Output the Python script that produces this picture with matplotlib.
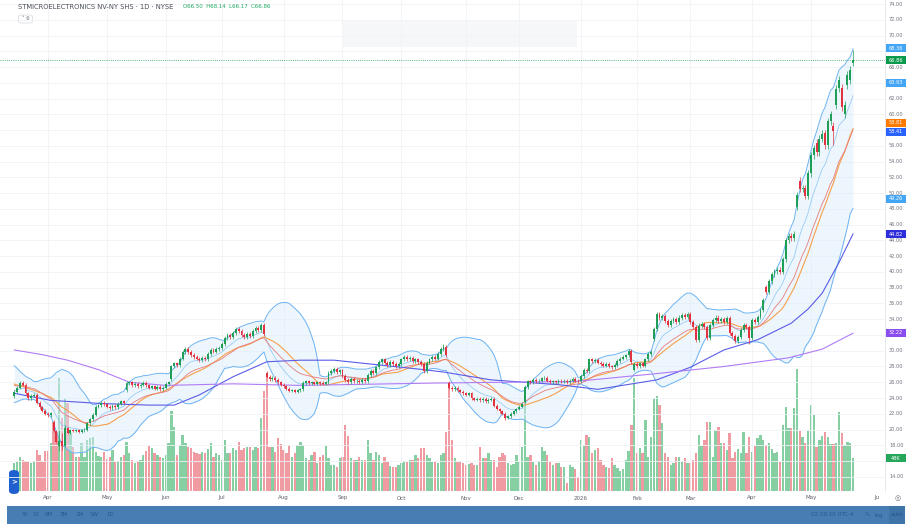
import numpy as np
import pandas as pd
import matplotlib
matplotlib.use("Agg")
import matplotlib.pyplot as plt
from matplotlib.patches import Rectangle, FancyBboxPatch

# ---------------- data ----------------
holidays = ["2025-04-18", "2025-05-26", "2025-06-19", "2025-07-04", "2025-09-01",
            "2025-11-27", "2025-12-25", "2026-01-01", "2026-01-19", "2026-02-16",
            "2026-04-03"]

# closes before the visible window (only used to warm up the 20-day bands)
lead_closes = [27.8, 28.0, 27.5, 27.2, 26.8, 26.4, 26.6, 25.9, 25.5, 25.1,
               25.6, 25.2, 24.7, 25.0, 25.4, 24.8, 24.3, 24.6, 24.2]

c_mar25 = [24.8, 25.3, 25.9, 25.7, 24.6, 24.0, 24.3, 24.4, 23.4, 22.8, 22.4, 22.0]
c_apr25 = [21.8, 22.1, 19.8, 18.4, 18.6, 17.9, 20.2, 19.6, 19.9, 19.8, 19.9, 19.7,
           19.9, 20.0, 20.8, 21.3, 21.9, 22.9, 23.1, 23.4, 23.2]
c_may25 = [22.9, 22.7, 23.0, 22.8, 23.3, 23.6, 23.4, 25.9, 26.0, 25.6, 25.8, 25.5,
           25.7, 25.9, 25.6, 25.3, 25.5, 25.2, 25.4, 25.1, 25.3]
c_jun25 = [25.8, 26.0, 28.0, 28.4, 28.2, 29.0, 29.8, 30.2, 29.8, 29.5, 29.2, 29.0,
           28.8, 29.1, 28.9, 29.6, 30.1, 29.9, 30.2, 30.4]
c_jul25 = [30.8, 31.6, 32.0, 31.7, 32.3, 32.7, 32.5, 32.0, 31.7, 32.1, 31.9, 32.5,
           32.9, 32.6, 33.3, 32.1, 26.7, 26.4, 26.6, 26.3, 26.0, 25.7]
c_aug25 = [25.5, 25.2, 24.9, 25.0, 24.8, 25.0, 25.1, 25.9, 26.1, 25.9, 26.0, 25.8,
           26.0, 25.9, 25.8, 26.0, 27.2, 27.4, 27.7, 27.3, 27.5]
c_sep25 = [26.8, 26.3, 26.0, 26.4, 26.1, 26.2, 26.0, 26.3, 26.1, 26.9, 27.4, 27.2,
           27.9, 28.6, 28.9, 28.5, 28.2, 28.6, 28.3, 28.0, 28.3]
c_oct25 = [28.9, 29.2, 28.9, 29.1, 28.7, 28.9, 28.6, 28.3, 27.4, 28.5, 28.9, 29.2,
           29.0, 29.6, 30.2, 30.5, 29.5, 25.3, 25.1, 25.3, 25.0, 24.8, 24.6]
c_nov25 = [24.4, 24.6, 24.0, 23.8, 23.9, 23.7, 23.9, 23.6, 23.8, 23.9, 23.0, 22.6,
           22.3, 22.0, 21.5, 21.7, 22.0, 22.3, 22.6]
c_dec25 = [22.9, 23.3, 25.4, 26.1, 26.0, 26.3, 26.1, 26.2, 26.5, 26.6, 26.2, 26.0,
           26.1, 26.0, 26.2, 26.1, 26.2, 26.0, 26.2, 26.4, 26.2, 26.1]
c_jan26 = [26.8, 27.6, 27.4, 28.9, 28.7, 28.8, 28.5, 28.3, 28.1, 28.3, 28.0, 27.9,
           28.2, 28.7, 29.0, 29.2, 29.4, 30.0, 28.6, 28.3]
c_feb26 = [28.0, 28.4, 28.1, 28.9, 29.6, 29.9, 32.8, 34.6, 34.2, 34.4, 33.8, 33.3,
           33.8, 34.0, 33.7, 34.2, 34.5, 34.3, 34.6]
c_mar26 = [33.6, 33.0, 31.4, 33.2, 33.4, 33.0, 31.6, 33.3, 33.9, 34.2, 33.8, 34.0,
           33.7, 34.1, 32.3, 31.9, 31.2, 31.8, 32.6, 33.3, 33.0, 31.6]
c_apr26 = [33.9, 33.6, 34.3, 35.2, 36.4, 37.5, 38.8, 39.7, 40.1, 40.3, 40.0, 41.6,
           44.0, 44.6, 44.3, 44.8, 49.8, 50.5, 50.6, 49.7, 52.5]
c_may26 = [54.8, 55.7, 55.2, 56.9, 57.5, 56.1, 59.1, 60.0, 57.9, 63.2, 64.3, 60.9,
           61.2, 65.0, 65.6, 66.86]

# volume in thousands of shares
v_mar25 = [41, 44, 49, 45, 44, 42, 41, 44, 59, 52, 44, 58]
v_apr25 = [58, 70, 100, 86, 165, 106, 135, 128, 84, 64, 49, 49, 70, 49, 74, 77, 78,
           57, 51, 49, 57]
v_may25 = [46, 49, 59, 42, 44, 49, 52, 71, 55, 45, 41, 44, 45, 52, 58, 65, 62, 55,
           52, 49, 48]
v_jun25 = [52, 70, 117, 93, 52, 67, 81, 70, 64, 62, 57, 55, 54, 57, 55, 61, 70, 49,
           55, 52]
v_jul25 = [45, 74, 55, 55, 62, 59, 71, 59, 62, 64, 64, 59, 64, 62, 106, 146, 172,
           64, 64, 57, 77, 68]
v_aug25 = [59, 55, 67, 49, 55, 67, 71, 67, 48, 45, 52, 57, 41, 49, 52, 65, 48, 38,
           38, 35, 48]
v_sep25 = [49, 96, 80, 48, 45, 45, 49, 45, 45, 74, 55, 45, 57, 52, 41, 49, 42, 36,
           35, 35, 38]
v_oct25 = [41, 44, 42, 45, 45, 52, 48, 62, 62, 52, 48, 42, 42, 41, 52, 55, 86, 154,
           74, 48, 42, 42, 41]
v_nov25 = [38, 39, 41, 38, 38, 64, 48, 48, 55, 45, 45, 35, 49, 55, 52, 41, 38, 39, 52]
v_dec25 = [44, 64, 151, 49, 52, 42, 38, 44, 64, 58, 52, 42, 38, 41, 41, 35, 35, 12,
           38, 35, 32, 20]
v_jan26 = [74, 67, 81, 78, 55, 59, 62, 45, 38, 35, 33, 48, 38, 33, 29, 32, 45, 58,
           96, 165]
v_feb26 = [55, 62, 55, 103, 49, 78, 135, 138, 125, 99, 55, 49, 38, 41, 49, 49, 44,
           48, 41]
v_mar26 = [41, 45, 55, 81, 65, 74, 100, 100, 49, 88, 93, 70, 70, 59, 84, 48, 57, 61,
           55, 86, 55, 78]
v_apr26 = [57, 65, 77, 81, 74, 67, 70, 61, 55, 57, 42, 96, 122, 91, 91, 120, 178,
           88, 78, 70, 87]
v_may26 = [125, 110, 64, 74, 80, 86, 78, 68, 68, 70, 115, 84, 67, 71, 70, 48]

# opens that gap away from the previous close (bar index -> open)
gap_opens = {14: 21.0, 16: 17.9, 40: 25.0, 56: 26.4, 90: 27.2, 155: 25.9,
             182: 23.5, 221: 27.6, 228: 31.5, 268: 38.1, 279: 48.2, 280: 51.6,
             286: 56.4, 289: 57.6, 292: 58.5, 293: 61.2, 294: 63.3, 295: 63.3,
             296: 60.0, 297: 63.7, 298: 64.4, 299: 66.50}
high_at = {16: 19.9, 17: 19.6, 18: 20.6, 153: 30.9, 299: 68.14}
low_at = {16: 17.3, 17: 17.4, 175: 21.2, 262: 30.9, 292: 56.1, 299: 66.17}

# 50 and 200 day averages, read at a few bars
ma50_at = [0, 13, 31, 48, 57, 66, 78, 90, 102, 114, 146, 153, 170, 194, 208, 229,
           241, 253, 265, 277, 283, 288, 294, 299]
ma50_val = [24.6, 23.7, 23.3, 23.1, 23.1, 24.4, 26.7, 28.6, 28.8, 28.8, 27.6, 27.3,
            26.3, 25.7, 25.1, 26.3, 27.9, 30.1, 31.4, 33.5, 35.3, 37.3, 41.2, 44.82]
ma200_at = [0, 10, 19, 30, 41, 54, 78, 102, 150, 200, 229, 253, 276, 288, 299]
ma200_val = [30.1, 29.5, 28.8, 27.6, 26.0, 25.6, 25.8, 25.6, 25.9, 26.1, 27.1, 28.0,
             29.1, 30.2, 32.22]

# values shown in the coloured boxes on the price scale
tag_vals = [68.36, 66.86, 63.93, 58.81, 58.41, 49.26, 44.82, 32.22]
tag_cols = ["#42a5f5", "#0b9a4c", "#42a5f5", "#ff7a00", "#2962ff", "#42a5f5",
            "#2d2ddb", "#8a4df0"]
tag_ypx = [48, 60, 83, 123, 132, 199, 234, 333]

# ---------------- build series ----------------
closes = np.array(c_mar25 + c_apr25 + c_may25 + c_jun25 + c_jul25 + c_aug25 +
                  c_sep25 + c_oct25 + c_nov25 + c_dec25 + c_jan26 + c_feb26 +
                  c_mar26 + c_apr26 + c_may26)
volumes = np.array(v_mar25 + v_apr25 + v_may25 + v_jun25 + v_jul25 + v_aug25 +
                   v_sep25 + v_oct25 + v_nov25 + v_dec25 + v_jan26 + v_feb26 +
                   v_mar26 + v_apr26 + v_may26)
dates = pd.bdate_range("2025-03-14", "2026-05-22")
dates = dates[~dates.isin(pd.to_datetime(holidays))]
n = len(closes)
idx = np.arange(n)

opens = np.r_[lead_closes[-1], closes[:-1]].astype(float)
for k, v in gap_opens.items():
    opens[k] = v
highs = np.maximum(opens, closes) * 1.008
lows = np.minimum(opens, closes) * 0.992
for k, v in high_at.items():
    highs[k] = v
for k, v in low_at.items():
    lows[k] = v
up = closes >= opens

full = pd.Series(lead_closes + list(closes))
L = len(lead_closes)
sma20 = full.rolling(20).mean().values[L:]
sd20 = full.rolling(20).std(ddof=0).values[L:]
bb_up = sma20 + 2 * sd20
bb_lo = sma20 - 2 * sd20
ema20 = full.ewm(span=20, adjust=False).mean().values[L:]
ema10 = full.ewm(span=10, adjust=False).mean().values[L:]

# ---------------- figure ----------------
W, H = 914, 529
fig = plt.figure(figsize=(W / 100, H / 100), dpi=100)
fig.patch.set_facecolor("white")

def fx(px):
    return px / W

def fy(py):
    return 1 - py / H

def py_of(p):
    return 4 + (74 - p) * 7.88

ax2 = fig.add_axes([0, fy(491), fx(885), 491 / H])
ax = fig.add_axes([0, fy(491), fx(885), 491 / H], sharex=ax2)
ax.set_zorder(ax2.get_zorder() + 1)
ax.patch.set_visible(False)

ax.set_xlim(-5.1, 310.4)
ax.set_ylim(12.20, 74.51)
ax2.set_ylim(0, 714)
for a in (ax, ax2):
    for s in a.spines.values():
        s.set_visible(False)
    a.set_xticks([])
    a.set_yticks([])

# grid
for p in range(14, 76, 2):
    ax.axhline(p, color="#f1f3f6", lw=0.6, zorder=0)
month_starts = [i for i in range(1, n) if dates[i].month != dates[i - 1].month]
for i in month_starts:
    ax.axvline(i, color="#f1f3f6", lw=0.6, zorder=0)

# volume
vcol = np.where(up, "#86cfa2", "#f09aa2")
ax2.bar(idx, volumes, width=0.82, color=vcol, linewidth=0)

# bands and averages
ax.fill_between(idx, bb_up, bb_lo, color="#d9ebfb", alpha=0.45, lw=0, zorder=1)
ax.plot(idx, bb_up, color="#6db3f2", lw=0.7, zorder=2)
ax.plot(idx, bb_lo, color="#6db3f2", lw=0.7, zorder=2)
ax.plot(idx, ema10, color="#8cc4f5", lw=0.5, zorder=2)
ax.plot(idx, sma20, color="#f7a04b", lw=0.8, zorder=2)
ax.plot(idx, ema20, color="#e57c7c", lw=0.6, zorder=2)
ax.plot(ma50_at, ma50_val, color="#5a5ce6", lw=0.8, zorder=2)
ax.plot(ma200_at, ma200_val, color="#b07cf4", lw=0.8, zorder=2)

# candles
ccol = np.where(up, "#1f9e57", "#e2323f")
ax.vlines(idx, lows, highs, colors=ccol, lw=0.5, zorder=3)
body = np.maximum(np.abs(closes - opens), 0.06)
ax.bar(idx, body, bottom=np.minimum(opens, closes), width=0.68, color=ccol,
       linewidth=0, zorder=4)

# last price line
ax.axhline(closes[-1], color="#1f9e57", lw=0.6, ls=(0, (1, 1.6)), zorder=2)

# ---------------- price scale ----------------
fig.add_artist(plt.Line2D([fx(884.5)] * 2, [fy(0), fy(491)], color="#e3e6eb", lw=0.6))
box_centres = tag_ypx + [458]
for p in range(14, 76, 2):
    yp = py_of(p)
    if min(abs(yp - b) for b in box_centres) < 5:
        continue  # hidden behind a value box, as on the reference
    fig.text(fx(889), fy(yp), f"{p:.2f}", fontsize=3.6, color="#6d717c",
             va="center", ha="left")
for v, c, yp in zip(tag_vals, tag_cols, tag_ypx):
    fig.add_artist(Rectangle((fx(886), fy(yp + 4.3)), fx(19.5), 8.6 / H,
                             facecolor=c, edgecolor="none"))
    fig.text(fx(895.8), fy(yp), f"{v:.2f}", fontsize=3.6, color="white",
             va="center", ha="center")
fig.add_artist(Rectangle((fx(886), fy(458 + 4.3)), fx(19.5), 8.6 / H,
                         facecolor="#26a65b", edgecolor="none"))
fig.text(fx(895.8), fy(458), f"{volumes[-1]}K", fontsize=3.6, color="white",
         va="center", ha="center")

# ---------------- time axis ----------------
for i in month_starts:
    d = dates[i]
    lab = str(d.year) if d.month == 1 else d.strftime("%b")
    fig.text(fx(14.3 + 2.805 * i), fy(498), lab, fontsize=4, color="#5d616b",
             ha="center", va="center")
fig.text(fx(877), fy(498), "Ju", fontsize=4, color="#5d616b", ha="center", va="center")
fig.text(fx(898), fy(498), "◎", fontsize=5, color="#6d717c", ha="center", va="center")

# ---------------- header ----------------
fig.text(fx(18), fy(7), "STMICROELECTRONICS NV-NY SHS · 1D · NYSE", fontsize=4.9,
         color="#4a4e59", ha="left", va="center")
fig.text(fx(183), fy(7), "O66.50  H68.14  L66.17  C66.86", fontsize=3.9,
         color="#1fa862", ha="left", va="center")
fig.add_artist(FancyBboxPatch((fx(18.5), fy(23)), fx(14), 8 / H,
                              boxstyle="round,pad=0,rounding_size=0.003",
                              facecolor="white", edgecolor="#d5d8de", lw=0.5))
fig.text(fx(25.5), fy(19), "˅ 6", fontsize=3.8, color="#6d717c", ha="center",
         va="center")
fig.add_artist(Rectangle((fx(343), fy(47)), fx(234), 27 / H, facecolor="#f6f7f9",
                         edgecolor="none"))

# left tab
fig.add_artist(FancyBboxPatch((fx(9), fy(494)), fx(10), 24 / H,
                              boxstyle="round,pad=0,rounding_size=0.006",
                              facecolor="#1f5fcf", edgecolor="none"))
fig.text(fx(14), fy(482), ">", fontsize=5, color="white", ha="center", va="center",
         fontweight="bold")

# ---------------- bottom toolbar ----------------
fig.add_artist(Rectangle((fx(7), fy(524)), fx(898), 18 / H, facecolor="#467eb3",
                         edgecolor="none"))
fig.add_artist(Rectangle((fx(889), fy(524)), fx(16), 18 / H, facecolor="#3f74a9",
                         edgecolor="none"))
ranges = ["5Y", "1Y", "6M", "3M", "1M", "1W", "1D"]
range_x = [25, 36, 49, 64, 79, 94, 110]
for t, xp in zip(ranges, range_x):
    fig.text(fx(xp), fy(515), t, fontsize=4, color="#25588d", ha="center", va="center")
fig.text(fx(832), fy(515), "02:59:10 UTC-4", fontsize=4, color="#25588d",
         ha="center", va="center")
fig.text(fx(867), fy(515), "%", fontsize=4, color="#25588d", ha="center", va="center")
fig.text(fx(879), fy(515), "log", fontsize=4, color="#25588d", ha="center", va="center")
fig.text(fx(897), fy(515), "auto", fontsize=4, color="#25588d", ha="center", va="center")

fig.savefig("out.png", dpi=100, facecolor="white")
